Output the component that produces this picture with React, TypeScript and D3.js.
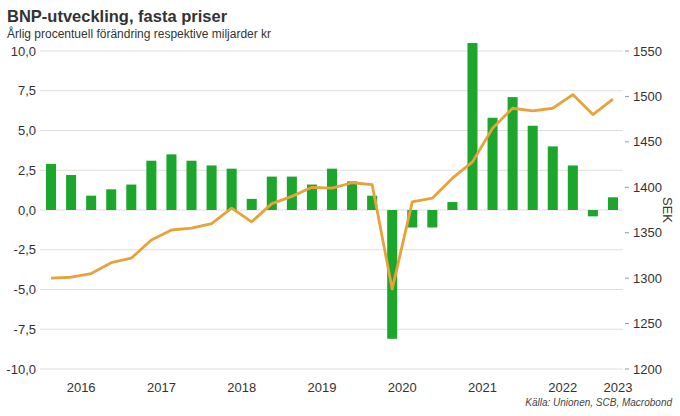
import * as d3 from "d3";

// Quarterly GDP, 2016 Q1 – 2023 Q1
const quarters = [
  "2016Q1", "2016Q2", "2016Q3", "2016Q4",
  "2017Q1", "2017Q2", "2017Q3", "2017Q4",
  "2018Q1", "2018Q2", "2018Q3", "2018Q4",
  "2019Q1", "2019Q2", "2019Q3", "2019Q4",
  "2020Q1", "2020Q2", "2020Q3", "2020Q4",
  "2021Q1", "2021Q2", "2021Q3", "2021Q4",
  "2022Q1", "2022Q2", "2022Q3", "2022Q4",
  "2023Q1",
];

// annual % change (left axis)
const growth = [
  2.9, 2.2, 0.9, 1.3,
  1.6, 3.1, 3.5, 3.1,
  2.8, 2.6, 0.7, 2.1,
  2.1, 1.6, 2.6, 1.8,
  0.9, -8.1, -1.1, -1.1,
  0.5, 10.5, 5.8, 7.1,
  5.3, 4.0, 2.8, -0.4,
  0.8,
];

// GDP level, billion SEK (right axis)
const level = [
  1300, 1301, 1305, 1317,
  1322, 1342, 1353, 1355,
  1360, 1377, 1362, 1382,
  1390, 1400, 1399, 1405,
  1403, 1288, 1384, 1388,
  1410, 1428, 1465, 1487,
  1484, 1487, 1502, 1480,
  1497,
];

const years = ["2016", "2017", "2018", "2019", "2020", "2021", "2022", "2023"];
const leftTicks = [-10, -7.5, -5, -2.5, 0, 2.5, 5, 7.5, 10];
const rightTicks = [1200, 1250, 1300, 1350, 1400, 1450, 1500, 1550];

const W = 680, H = 416;
const M = { top: 51, right: 57, bottom: 47, left: 41 };
const font = "'Liberation Sans', Arial, sans-serif";
const green = "#1ca62c";
const orange = "#e8a23a";
const ink = "#333";

export default function App() {
  const x = d3.scaleBand<string>().domain(quarters).range([M.left, W - M.right]).paddingInner(0.5).paddingOuter(0.25);
  const y = d3.scaleLinear().domain([-10, 10]).range([H - M.bottom, M.top]);
  const yR = d3.scaleLinear().domain([1200, 1550]).range([H - M.bottom, M.top]);
  const cx = (q: string) => (x(q) ?? 0) + x.bandwidth() / 2;

  const line = d3.line<number>()
    .x((_, i) => cx(quarters[i]))
    .y((d) => yR(d));

  const fmt = (v: number) => d3.format(".1f")(v).replace(".", ",").replace("−", "-");

  return (
    <svg width={W} height={H} style={{ position: "absolute", left: 0, top: 0 }} fontFamily={font}>
      <rect width={W} height={H} fill="#fff" />
      <text x={7} y={22} fontSize={16.5} fontWeight="bold" fill={ink}>BNP-utveckling, fasta priser</text>
      <text x={7} y={38} fontSize={12} fill={ink}>Årlig procentuell förändring respektive miljarder kr</text>

      {leftTicks.map((t) => (
        <g key={t}>
          <line x1={M.left - 1} x2={W - M.right} y1={y(t)} y2={y(t)} stroke="#dedede" strokeWidth={1} />
          <text x={36} y={y(t) + 4.5} fontSize={13} textAnchor="end" fill={ink}>{fmt(t)}</text>
        </g>
      ))}

      {rightTicks.map((t) => (
        <g key={t}>
          <line x1={W - M.right + 2} x2={W - M.right + 6} y1={yR(t)} y2={yR(t)} stroke="#999" />
          <text x={W - M.right + 10} y={yR(t) + 4.5} fontSize={13} fill={ink}>{t}</text>
        </g>
      ))}

      <text transform={`translate(662.5,${y(0)}) rotate(90)`} fontSize={13} textAnchor="middle" fill={ink}>SEK</text>

      {growth.map((v, i) => (
        <rect key={quarters[i]} x={x(quarters[i])} width={x.bandwidth()}
          y={y(Math.max(0, v))} height={Math.abs(y(v) - y(0))} fill={green} />
      ))}

      <path d={line(level) ?? ""} fill="none" stroke={orange} strokeWidth={2.8} strokeLinejoin="round" />

      {years.map((yr) => {
        const qs = quarters.filter((q) => q.startsWith(yr));
        const pos = d3.mean(qs, cx) ?? 0;
        return (
          <text key={yr} x={pos + (qs.length < 4 ? 5 : 0)} y={392} fontSize={13} textAnchor="middle" fill={ink}>{yr}</text>
        );
      })}

      <text x={672} y={406} fontSize={10} fontStyle="italic" textAnchor="end" fill="#444">Källa: Unionen, SCB, Macrobond</text>
    </svg>
  );
}
